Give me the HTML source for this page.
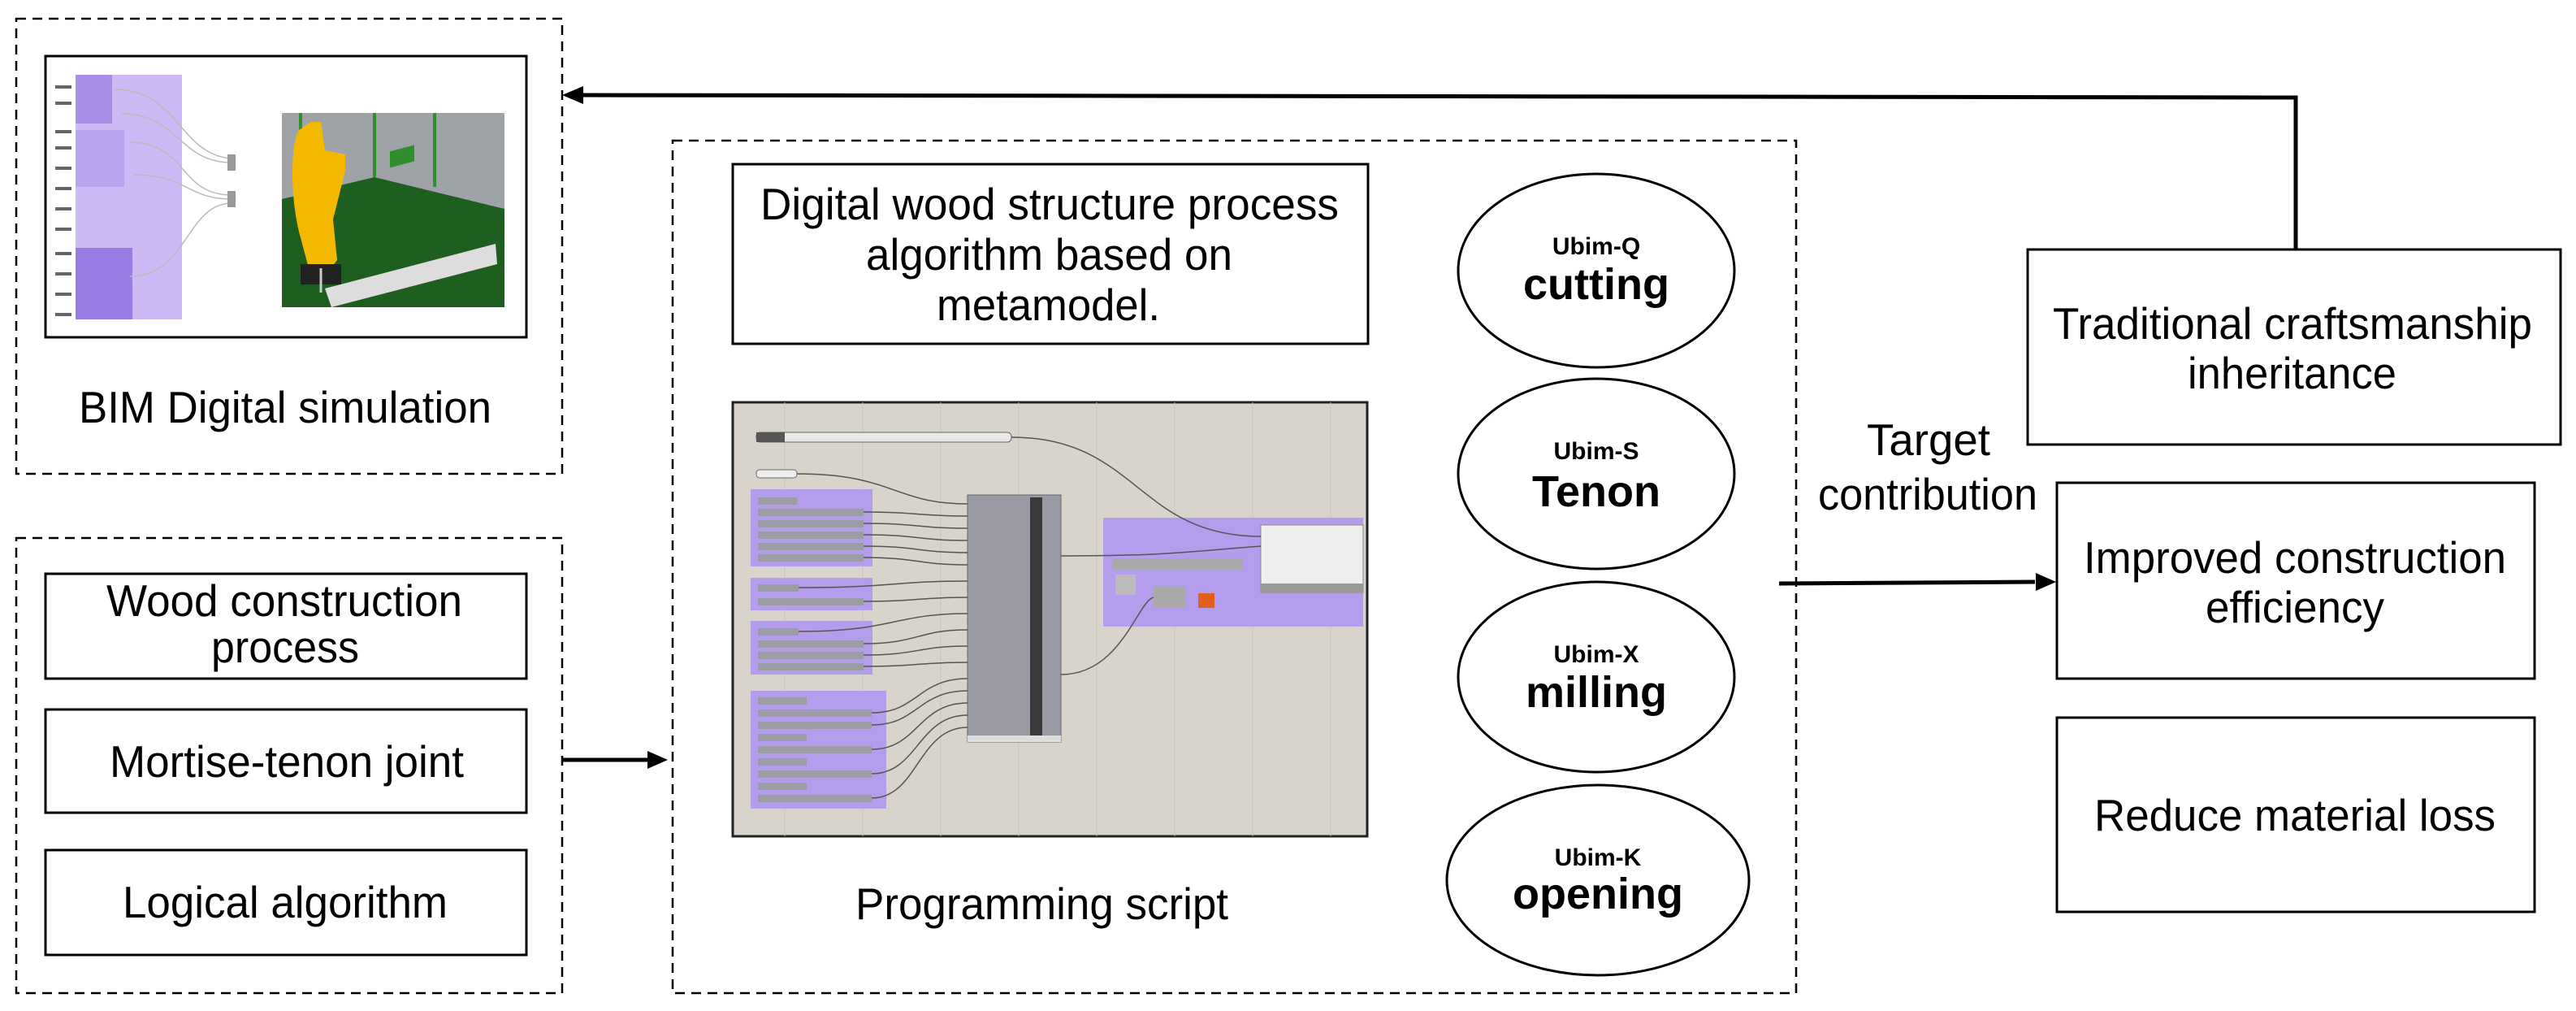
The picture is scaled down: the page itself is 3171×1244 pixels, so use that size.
<!DOCTYPE html>
<html><head><meta charset="utf-8"><style>
html,body{margin:0;padding:0;background:#fff;}
svg{display:block;}
text{font-family:"Liberation Sans",sans-serif;fill:#000;}
</style></head><body>
<svg width="3171" height="1244" viewBox="0 0 3171 1244" xmlns="http://www.w3.org/2000/svg">
<!-- dashed groups -->
<g fill="none" stroke="#000" stroke-width="2.5" stroke-dasharray="12,8">
<rect x="20" y="23" width="672" height="560"/>
<rect x="20" y="662" width="672" height="560"/>
<rect x="828" y="173" width="1383" height="1049"/>
</g>
<!-- BIM image box -->
<rect x="56" y="69" width="592" height="346" fill="#fff" stroke="#000" stroke-width="3"/>
<rect x="93" y="92" width="131" height="301" fill="#cdb9f3"/>
<rect x="93" y="92" width="45" height="60" fill="#a98ee8"/>
<rect x="93" y="160" width="60" height="70" fill="#b9a3ee"/>
<rect x="93" y="305" width="70" height="88" fill="#9a7be4"/>
<g stroke="#bbb" stroke-width="1.5" fill="none">
<path d="M140,110 C220,110 220,190 285,195"/><path d="M150,140 C220,140 220,200 285,200"/><path d="M160,175 C230,175 220,240 285,240"/><path d="M165,215 C230,215 230,245 285,245"/><path d="M160,340 C230,340 230,250 285,250"/>
</g>
<rect x="280" y="190" width="10" height="20" fill="#999"/><rect x="280" y="235" width="10" height="20" fill="#999"/>
<g fill="#666"><rect x="68" y="105" width="20" height="4"/><rect x="68" y="125" width="20" height="4"/><rect x="68" y="160" width="20" height="4"/><rect x="68" y="180" width="20" height="4"/><rect x="68" y="205" width="20" height="4"/><rect x="68" y="230" width="20" height="4"/><rect x="68" y="255" width="20" height="4"/><rect x="68" y="280" width="20" height="4"/><rect x="68" y="310" width="20" height="4"/><rect x="68" y="335" width="20" height="4"/><rect x="68" y="360" width="20" height="4"/><rect x="68" y="385" width="20" height="4"/></g>
<!-- robot scene -->
<rect x="347" y="139" width="274" height="239" fill="#9ea3a8"/>
<polygon points="347,245 461,218 621,257 621,378 347,378" fill="#1e5e1e"/>
<g stroke="#2f8f2f" stroke-width="4"><line x1="370" y1="139" x2="370" y2="245"/><line x1="461" y1="139" x2="461" y2="218"/><line x1="535" y1="139" x2="535" y2="230"/></g>
<polygon points="400,355 610,300 612,325 408,378" fill="#ddd"/>
<rect x="480" y="315" width="30" height="20" fill="#2f8f2f" transform="skewY(-15)"/>
<path d="M368,160 C360,170 355,230 368,285 L380,330 L400,340 L415,320 L410,270 L425,210 L425,190 L400,185 L395,150 L383,150 Z" fill="#f5b800"/>
<rect x="370" y="325" width="50" height="25" fill="#222"/>
<line x1="395" y1="330" x2="395" y2="360" stroke="#ccc" stroke-width="3"/>
<!-- left boxes -->
<g fill="#fff" stroke="#000" stroke-width="3">
<rect x="56" y="706" width="592" height="129"/>
<rect x="56" y="873" width="592" height="127"/>
<rect x="56" y="1046" width="592" height="129"/>
<rect x="902" y="202" width="782" height="221"/>
<rect x="2496" y="307" width="656" height="240"/>
<rect x="2532" y="594" width="588" height="241"/>
<rect x="2532" y="883" width="588" height="239"/>
</g>
<!-- script screenshot -->
<rect x="902" y="495" width="781" height="534" fill="#d8d4cc" stroke="#222" stroke-width="3"/>
<g stroke="#cac6be" stroke-width="1"><line x1="966" y1="495" x2="966" y2="1029"/><line x1="1062" y1="495" x2="1062" y2="1029"/><line x1="1158" y1="495" x2="1158" y2="1029"/><line x1="1254" y1="495" x2="1254" y2="1029"/><line x1="1350" y1="495" x2="1350" y2="1029"/><line x1="1446" y1="495" x2="1446" y2="1029"/><line x1="1542" y1="495" x2="1542" y2="1029"/><line x1="1638" y1="495" x2="1638" y2="1029"/></g>
<rect x="931" y="532" width="314" height="12" rx="5" fill="#e8e8e8" stroke="#666"/>
<rect x="931" y="532" width="35" height="12" fill="#555"/>
<rect x="931" y="578" width="50" height="10" rx="4" fill="#eee" stroke="#666"/>
<g fill="#b59ded"><rect x="924" y="602" width="150" height="95"/><rect x="924" y="711" width="150" height="40"/><rect x="924" y="764" width="150" height="66"/><rect x="924" y="850" width="167" height="145"/><rect x="1358" y="637" width="320" height="134"/></g>
<g fill="#9c9ca4">
<rect x="933" y="612" width="48" height="9"/><rect x="933" y="626" width="130" height="9"/><rect x="933" y="640" width="130" height="9"/><rect x="933" y="654" width="130" height="9"/><rect x="933" y="668" width="130" height="9"/><rect x="933" y="682" width="130" height="9"/>
<rect x="933" y="719" width="50" height="9"/><rect x="933" y="736" width="130" height="9"/>
<rect x="933" y="773" width="50" height="9"/><rect x="933" y="788" width="130" height="9"/><rect x="933" y="802" width="130" height="9"/><rect x="933" y="816" width="130" height="9"/>
<rect x="933" y="858" width="60" height="9"/><rect x="933" y="873" width="140" height="9"/><rect x="933" y="888" width="140" height="9"/><rect x="933" y="903" width="60" height="9"/><rect x="933" y="918" width="140" height="9"/><rect x="933" y="933" width="60" height="9"/><rect x="933" y="948" width="140" height="9"/><rect x="933" y="963" width="60" height="9"/><rect x="933" y="978" width="140" height="9"/>
</g>
<rect x="1191" y="609" width="115" height="304" fill="#9a9aa4" stroke="#666"/>
<rect x="1268" y="612" width="15" height="298" fill="#3a3a3a"/>
<rect x="1191" y="905" width="115" height="8" fill="#ddd"/>
<rect x="1552" y="646" width="126" height="83" fill="#eee" stroke="#888"/>
<rect x="1552" y="718" width="126" height="11" fill="#999"/>
<rect x="1370" y="687" width="160" height="14" fill="#aaa"/>
<rect x="1373" y="707" width="25" height="25" fill="#bbb"/><rect x="1420" y="722" width="40" height="25" fill="#aaa"/><rect x="1475" y="730" width="20" height="18" fill="#e06020"/>
<g stroke="#555" stroke-width="1.5" fill="none">
<path d="M1245,538 C1400,538 1400,660 1552,660"/>
<path d="M981,583 C1100,583 1100,620 1191,620"/>
<path d="M1063,630 C1130,630 1130,635 1191,635"/><path d="M1063,644 C1130,644 1130,650 1191,650"/><path d="M1063,658 C1130,658 1130,665 1191,665"/><path d="M1063,672 C1130,672 1130,680 1191,680"/><path d="M1063,686 C1130,686 1130,695 1191,695"/>
<path d="M983,723 C1100,723 1100,715 1191,715"/><path d="M1063,740 C1130,740 1130,735 1191,735"/>
<path d="M983,777 C1100,777 1100,755 1191,755"/><path d="M1063,792 C1130,792 1130,775 1191,775"/><path d="M1063,806 C1130,806 1130,795 1191,795"/><path d="M1063,820 C1130,820 1130,815 1191,815"/>
<path d="M1073,877 C1130,877 1130,835 1191,835"/><path d="M1073,892 C1130,892 1130,850 1191,850"/><path d="M1073,922 C1130,922 1130,865 1191,865"/><path d="M1073,952 C1130,952 1130,880 1191,880"/><path d="M1073,982 C1130,982 1130,895 1191,895"/>
<path d="M1306,684 C1430,684 1450,680 1552,672"/><path d="M1306,830 C1380,830 1400,740 1420,735"/>
</g>
<!-- ellipses -->
<g fill="#fff" stroke="#000" stroke-width="3">
<ellipse cx="1965" cy="333" rx="170" ry="119"/>
<ellipse cx="1965" cy="583" rx="170" ry="117"/>
<ellipse cx="1965" cy="833" rx="170" ry="117"/>
<ellipse cx="1967" cy="1083" rx="186" ry="117"/>
</g>
<!-- connectors -->
<g stroke="#000" stroke-width="5" fill="none">
<polyline points="2826,307 2826,120 715,117"/>
<line x1="692" y1="935" x2="800" y2="935"/>
<line x1="2190" y1="718" x2="2505" y2="716"/>
</g>
<polygon points="692,117 718,106 718,128" fill="#000"/>
<polygon points="822,935 797,924 797,946" fill="#000"/>
<polygon points="2531,716 2506,705 2506,727" fill="#000"/>
<!-- text -->
<g font-size="55">
<text x="97" y="520" textLength="508" lengthAdjust="spacingAndGlyphs">BIM Digital simulation</text>
<text x="131" y="758" textLength="438" lengthAdjust="spacingAndGlyphs">Wood construction</text>
<text x="260" y="815" textLength="182" lengthAdjust="spacingAndGlyphs">process</text>
<text x="135" y="956" textLength="436" lengthAdjust="spacingAndGlyphs">Mortise-tenon joint</text>
<text x="151" y="1129" textLength="400" lengthAdjust="spacingAndGlyphs">Logical algorithm</text>
<text x="936" y="270" textLength="712" lengthAdjust="spacingAndGlyphs">Digital wood structure process</text>
<text x="1066" y="332" textLength="451" lengthAdjust="spacingAndGlyphs">algorithm based on</text>
<text x="1153" y="394" textLength="275" lengthAdjust="spacingAndGlyphs">metamodel.</text>
<text x="1053" y="1131" textLength="459" lengthAdjust="spacingAndGlyphs">Programming script</text>
<text x="2298" y="560" textLength="152" lengthAdjust="spacingAndGlyphs">Target</text>
<text x="2238" y="627" textLength="270" lengthAdjust="spacingAndGlyphs">contribution</text>
<text x="2527" y="417" textLength="590" lengthAdjust="spacingAndGlyphs">Traditional craftsmanship</text>
<text x="2693" y="478" textLength="257" lengthAdjust="spacingAndGlyphs">inheritance</text>
<text x="2565" y="705" textLength="520" lengthAdjust="spacingAndGlyphs">Improved construction</text>
<text x="2715" y="766" textLength="220" lengthAdjust="spacingAndGlyphs">efficiency</text>
<text x="2578" y="1022" textLength="494" lengthAdjust="spacingAndGlyphs">Reduce material loss</text>
</g>
<g font-weight="bold" text-anchor="middle">
<text x="1965" y="313" font-size="30">Ubim-Q</text>
<text x="1965" y="368" font-size="54">cutting</text>
<text x="1965" y="565" font-size="30">Ubim-S</text>
<text x="1965" y="623" font-size="54">Tenon</text>
<text x="1965" y="815" font-size="30">Ubim-X</text>
<text x="1965" y="870" font-size="54">milling</text>
<text x="1967" y="1065" font-size="30">Ubim-K</text>
<text x="1967" y="1118" font-size="54">opening</text>
</g>
</svg>
</body></html>
